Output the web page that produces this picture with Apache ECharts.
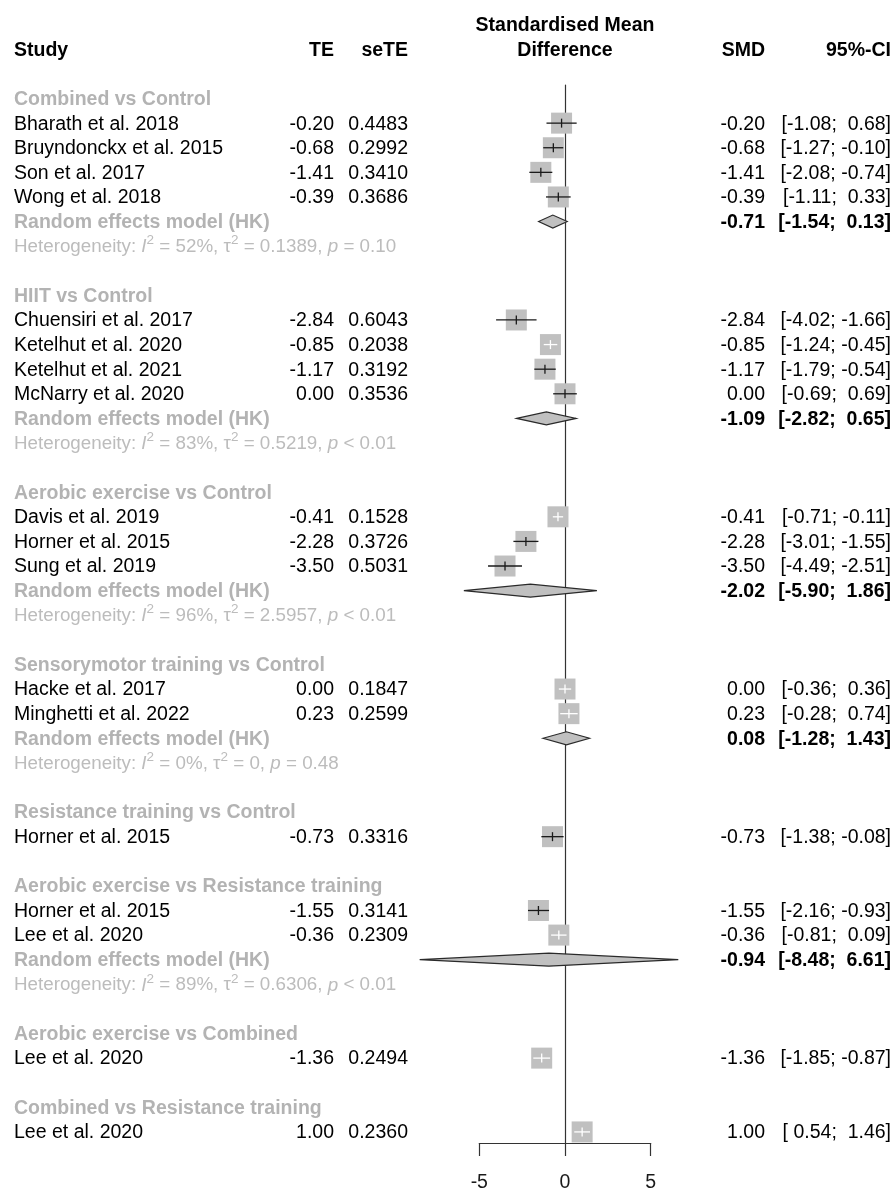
<!DOCTYPE html>
<html>
<head>
<meta charset="utf-8">
<script src="https://cdn.jsdelivr.net/npm/echarts@6/dist/echarts.min.js"></script>
<style>
  html, body { margin: 0; padding: 0; background: #ffffff; }
  #chart { width: 895px; height: 1191px; }
</style>
</head>
<body>
<div id="chart"></div>
<script>
// ---- Subgroups (comparisons) ----
const groupNames = [
  'Combined vs Control',
  'HIIT vs Control',
  'Aerobic exercise vs Control',
  'Sensorymotor training vs Control',
  'Resistance training vs Control',
  'Aerobic exercise vs Resistance training',
  'Aerobic exercise vs Combined',
  'Combined vs Resistance training'
];

// ---- Individual studies ----
const studyNames = [
  'Bharath et al. 2018', 'Bruyndonckx et al. 2015', 'Son et al. 2017', 'Wong et al. 2018',
  'Chuensiri et al. 2017', 'Ketelhut et al. 2020', 'Ketelhut et al. 2021', 'McNarry et al. 2020',
  'Davis et al. 2019', 'Horner et al. 2015', 'Sung et al. 2019',
  'Hacke et al. 2017', 'Minghetti et al. 2022',
  'Horner et al. 2015',
  'Horner et al. 2015', 'Lee et al. 2020',
  'Lee et al. 2020',
  'Lee et al. 2020'
];
const studyGroup = [0, 0, 0, 0, 1, 1, 1, 1, 2, 2, 2, 3, 3, 4, 5, 5, 6, 7];
const te      = [-0.20, -0.68, -1.41, -0.39, -2.84, -0.85, -1.17, 0.00, -0.41, -2.28, -3.50, 0.00, 0.23, -0.73, -1.55, -0.36, -1.36, 1.00];
const seTE    = [0.4483, 0.2992, 0.3410, 0.3686, 0.6043, 0.2038, 0.3192, 0.3536, 0.1528, 0.3726, 0.5031, 0.1847, 0.2599, 0.3316, 0.3141, 0.2309, 0.2494, 0.2360];
const ciLower = [-1.08, -1.27, -2.08, -1.11, -4.02, -1.24, -1.79, -0.69, -0.71, -3.01, -4.49, -0.36, -0.28, -1.38, -2.16, -0.81, -1.85, 0.54];
const ciUpper = [0.68, -0.10, -0.74, 0.33, -1.66, -0.45, -0.54, 0.69, -0.11, -1.55, -2.51, 0.36, 0.74, -0.08, -0.93, 0.09, -0.87, 1.46];

// ---- Random effects (Hartung-Knapp) pooled estimates per subgroup ----
const pooledEst   = [-0.71, -1.09, -2.02, 0.08, null, -0.94, null, null];
const pooledLower = [-1.54, -2.82, -5.90, -1.28, null, -8.48, null, null];
const pooledUpper = [0.13, 0.65, 1.86, 1.43, null, 6.61, null, null];

// ---- Heterogeneity statistics ----
const hetI2   = [52, 83, 96, 0, null, 89, null, null];
const hetTau2 = [0.1389, 0.5219, 2.5957, 0, null, 0.6306, null, null];
const hetP    = ['= 0.10', '< 0.01', '< 0.01', '= 0.48', null, '< 0.01', null, null];

// ---- Axis ----
const xTicks = [-5, 0, 5];

// ---- Styling ----
const FONT = '"Liberation Sans", Arial, sans-serif';
const FS = 19.5;
const GREY_TXT = '#b3b3b3';
const HET_TXT = '#bcbcbc';
const BOX_FILL = '#c0c0c0';
const LINE = '#1a1a1a';
const BOX = 21;
const TXT_DY = 1; // optical centring of text on its row

const colX = { study: 14, te: 334, se: 408, smd: 765, ci: 891, plotMid: 565 };

function f2(v) { return v.toFixed(2); }
function pad(v) { return (v < 0 ? '' : ' ') + f2(v); }
function ciText(lo, hi) { return '[' + pad(lo) + '; ' + pad(hi) + ']'; }

// Build the row layout: header, studies, pooled + heterogeneity (if >1 study), blank line
const rows = [];
rows.push({ kind: 'title', row: -4 });
rows.push({ kind: 'header', row: -3 });
let r = -1;
groupNames.forEach(function (g, gi) {
  rows.push({ kind: 'group', row: r, g: gi }); r++;
  studyNames.forEach(function (s, si) {
    if (studyGroup[si] === gi) { rows.push({ kind: 'study', row: r, s: si }); r++; }
  });
  if (pooledEst[gi] !== null) {
    rows.push({ kind: 'pooled', row: r, g: gi }); r++;
    rows.push({ kind: 'het', row: r, g: gi }); r++;
  }
  r++;
});

function text(str, x, y, align, weight, fill, size) {
  return {
    type: 'text',
    style: {
      text: str, x: x, y: y + TXT_DY, align: align, verticalAlign: 'middle',
      font: (weight || 'normal') + ' ' + (size || FS) + 'px ' + FONT,
      fill: fill || '#000000'
    }
  };
}

function renderRow(params, api) {
  const o = rows[params.dataIndex];
  const y = api.coord([0, o.row])[1];
  const kids = [];
  if (o.kind === 'title') {
    kids.push(text('Standardised Mean', colX.plotMid, y, 'center', 'bold'));
  } else if (o.kind === 'header') {
    kids.push(text('Study', colX.study, y, 'left', 'bold'));
    kids.push(text('TE', colX.te, y, 'right', 'bold'));
    kids.push(text('seTE', colX.se, y, 'right', 'bold'));
    kids.push(text('Difference', colX.plotMid, y, 'center', 'bold'));
    kids.push(text('SMD', colX.smd, y, 'right', 'bold'));
    kids.push(text('95%-CI', colX.ci, y, 'right', 'bold'));
  } else if (o.kind === 'group') {
    kids.push(text(groupNames[o.g], colX.study, y, 'left', 'bold', GREY_TXT));
  } else if (o.kind === 'study') {
    const i = o.s;
    kids.push(text(studyNames[i], colX.study, y, 'left'));
    kids.push(text(f2(te[i]), colX.te, y, 'right'));
    kids.push(text(seTE[i].toFixed(4), colX.se, y, 'right'));
    kids.push(text(f2(te[i]), colX.smd, y, 'right'));
    kids.push(text(ciText(ciLower[i], ciUpper[i]), colX.ci, y, 'right'));
    const c = api.coord([te[i], o.row]);
    const lo = api.coord([ciLower[i], o.row])[0];
    const hi = api.coord([ciUpper[i], o.row])[0];
    // CI drawn white when it fits inside the box
    const lineCol = (hi - lo) < BOX - 2 ? '#ffffff' : LINE;
    kids.push({
      type: 'rect',
      shape: { x: c[0] - BOX / 2, y: y - BOX / 2, width: BOX, height: BOX },
      style: { fill: BOX_FILL }
    });
    kids.push({
      type: 'line', shape: { x1: lo, y1: y, x2: hi, y2: y },
      style: { stroke: lineCol, lineWidth: 1.3 }
    });
    kids.push({
      type: 'line', shape: { x1: c[0], y1: y - 4.5, x2: c[0], y2: y + 4.5 },
      style: { stroke: lineCol, lineWidth: 1.3 }
    });
  } else if (o.kind === 'pooled') {
    const g = o.g;
    kids.push(text('Random effects model (HK)', colX.study, y, 'left', 'bold', GREY_TXT));
    kids.push(text(f2(pooledEst[g]), colX.smd, y, 'right', 'bold'));
    kids.push(text(ciText(pooledLower[g], pooledUpper[g]), colX.ci, y, 'right', 'bold'));
    const e = api.coord([pooledEst[g], o.row])[0];
    const lo = api.coord([pooledLower[g], o.row])[0];
    const hi = api.coord([pooledUpper[g], o.row])[0];
    kids.push({
      type: 'polygon',
      shape: { points: [[lo, y], [e, y - 6.5], [hi, y], [e, y + 6.5]] },
      style: { fill: BOX_FILL, stroke: '#2a2a2a', lineWidth: 1.2 }
    });
  } else if (o.kind === 'het') {
    const g = o.g;
    const tau = hetTau2[g] === 0 ? '0' : hetTau2[g].toFixed(4);
    const s = '{n|Heterogeneity: }{i|I}{s|2}{n| = ' + hetI2[g] + '%, τ}{s|2}{n| = ' + tau + ', }{i|p}{n| ' + hetP[g] + '}';
    const base = { fontFamily: FONT, fontSize: 18.8, fill: HET_TXT, color: HET_TXT, lineHeight: 27 };
    kids.push({
      type: 'text',
      style: {
        text: s, x: colX.study, y: y + TXT_DY, align: 'left', verticalAlign: 'middle',
        fill: HET_TXT,
        rich: {
          n: base,
          i: Object.assign({}, base, { fontStyle: 'italic' }),
          s: { fontFamily: FONT, fontSize: 13.5, fill: HET_TXT, color: HET_TXT, lineHeight: 13.5, verticalAlign: 'top' }
        }
      }
    });
  }
  return { type: 'group', children: kids };
}

const chart = echarts.init(document.getElementById('chart'), null, { renderer: 'canvas' });
chart.setOption({
  animation: false,
  backgroundColor: '#ffffff',
  grid: { left: 479.3, right: 244.3, top: 85, bottom: 48, outerBoundsMode: 'none' },
  xAxis: {
    type: 'value',
    min: xTicks[0], max: xTicks[xTicks.length - 1], interval: 5,
    position: 'bottom',
    splitLine: { show: false },
    axisLine: { show: true, onZero: false, lineStyle: { color: '#333333', width: 1.2 } },
    axisTick: { show: true, length: 13, lineStyle: { color: '#333333', width: 1.2 } },
    axisLabel: { margin: 30, color: '#1a1a1a', fontFamily: FONT, fontSize: FS }
  },
  yAxis: {
    type: 'value', inverse: true, min: -1.55, max: 41.45,
    splitLine: { show: false },
    axisLine: { show: true, onZero: true, lineStyle: { color: '#333333', width: 1.2 } },
    axisTick: { show: false },
    axisLabel: { show: false }
  },
  series: [{
    type: 'custom',
    clip: false,
    encode: { x: 0, y: 1 },
    data: rows.map(function (o) { return [0, o.row]; }),
    renderItem: renderRow
  }]
});
</script>
</body>
</html>
